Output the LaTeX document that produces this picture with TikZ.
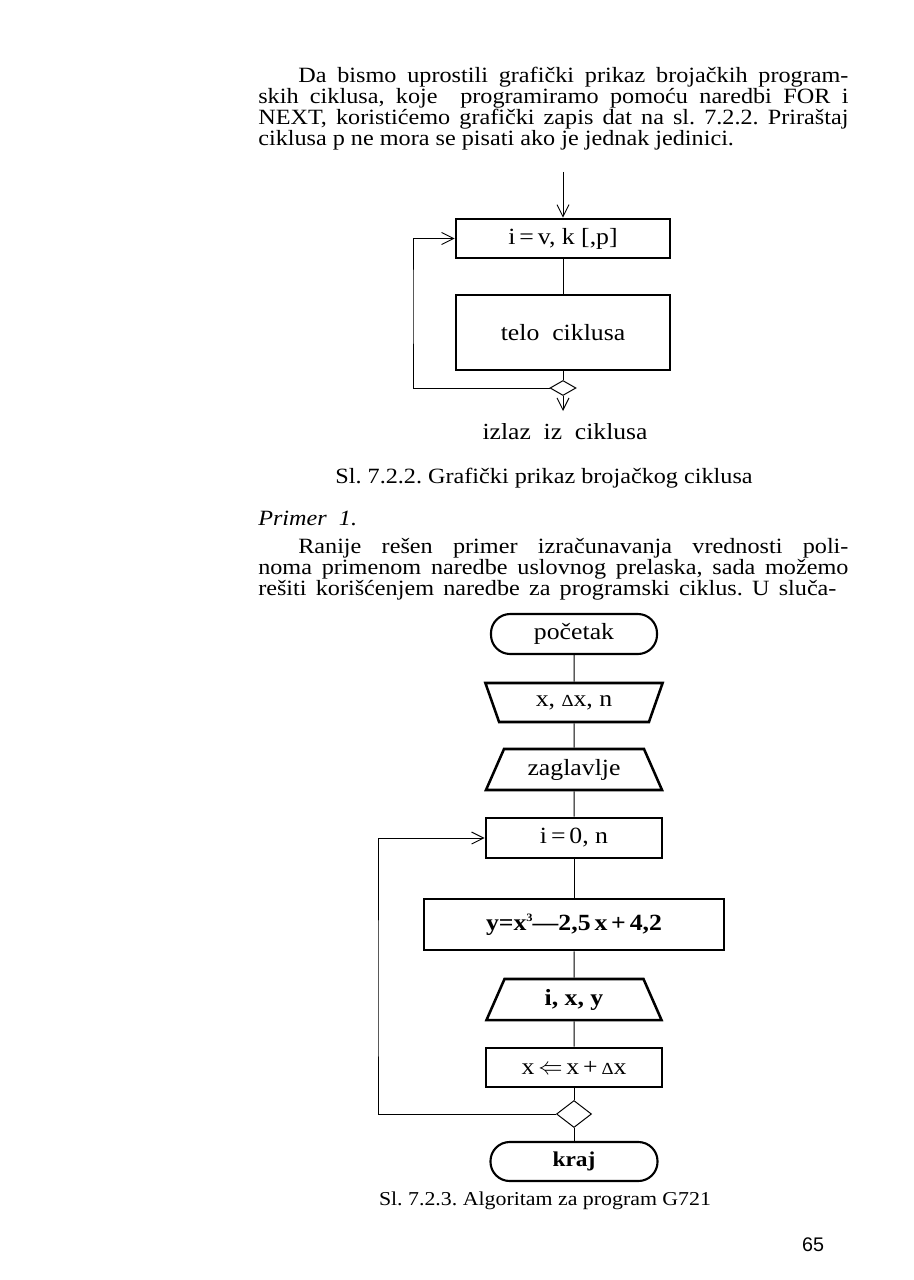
\documentclass[tikz,border=0pt]{standalone}
\usepackage{fontspec}
\setmainfont{Liberation Serif}[FakeStretch=1.11]
\setsansfont{Liberation Sans}
\usetikzlibrary{shapes.geometric, arrows.meta, positioning}
\frenchspacing

\newcommand{\dlt}{{\fontsize{12}{12}\selectfont Δ}}
\newcommand{\cube}{\raisebox{0.85ex}{\fontsize{8}{8}\selectfont 3}}

\begin{document}
\begin{tikzpicture}[
  x=0.025cm, y=-0.025cm,
  txt/.style={font=\fontsize{15.5}{14.8}\selectfont, inner sep=0pt},
  para/.style={txt, text width=14.75cm, align=justify, anchor=north west,
    execute at begin node={\lineskiplimit=-20pt}},
  blk/.style={draw, line width=1.8pt, inner sep=2pt, font=\fontsize{16.5}{16.5}\selectfont},
  term/.style={blk, line width=1.5pt, rounded corners=4.8mm},
  io/.style={blk, trapezium, trapezium stretches body, trapezium left angle=56, trapezium right angle=56},
  dec/.style={draw, diamond, line width=0.7pt, inner sep=0pt},
  ln/.style={line width=0.7pt},
  ar/.style={ln, -{Straight Barb[length=3mm, width=3mm]}}
]
\path[fill=white] (0,0) rectangle (913,1280);
\useasboundingbox (0,0) rectangle (913,1280);

% text above the first chart
\node[para] (par1) at (258,67) {\noindent\hspace*{1cm}Da bismo uprostili grafički prikaz brojačkih program-\linebreak
  skih ciklusa, koje\ \ programiramo pomoću naredbi FOR i\linebreak
  NEXT, koristićemo grafički zapis dat na sl.~7.2.2. Priraštaj\linebreak
  ciklusa p ne mora se pisati ako je jednak jedinici.};

% counting loop
\coordinate (in1) at (563,172);
\node[blk, minimum width=5.35cm, minimum height=0.975cm] (hdr1) at (563,238.5) {i\,=\,v, k [,p]};
\node[blk, minimum width=5.35cm, minimum height=1.875cm] (body1) at (563,332.5) {telo\ \ ciklusa};
\node[dec, minimum width=0.65cm, minimum height=0.375cm] (dec1) at (563,388) {};
\coordinate (ex1) at (563,411);
\coordinate (lp1) at (413,300);
\node[txt, font=\fontsize{16.4}{16.4}\selectfont] (izl) at (565,432) {izlaz\ \ iz\ \ ciklusa};
\draw[ar] (in1) -- (hdr1);
\foreach \a/\b in {hdr1/body1, body1/dec1}{\draw[ln] (\a) -- (\b);}
\draw[ar] (dec1) -- (ex1);
\draw[ar] (dec1.west) -| (lp1) |- (hdr1.west);

\node[txt] (cap1) at (544,478) {Sl. 7.2.2. Grafički prikaz brojačkog ciklusa};
\node[txt, anchor=west] (prm) at (258,518) {\itshape Primer\ \ 1.};

\node[para] (par2) at (258,538) {\noindent\hspace*{1cm}Ranije rešen primer izračunavanja vrednosti poli-\linebreak
  noma primenom naredbe uslovnog prelaska, sada možemo\linebreak
  rešiti korišćenjem naredbe za programski ciklus. U sluča-\parfillskip=8.5pt\par};

% algorithm G721
\node[term, minimum width=4.15cm, minimum height=1cm] (st) at (574,634) {početak};
\node[io, trapezium left angle=124, trapezium right angle=124, minimum width=4.43cm, minimum height=0.975cm] (inp) at (574,702.5) {x, \dlt x, n};
\node[io, minimum width=4.4cm, minimum height=1.025cm] (hd2) at (574,769.5) {zaglavlje};
\node[blk, minimum width=4.4cm, minimum height=1cm] (lp) at (574,838) {i\,=\,0, n};
\node[blk, minimum width=7.5cm, minimum height=1.275cm] (calc) at (574,924.5) {\bfseries y=x\cube---2,5\,x\,+\,4,2};
\node[io, minimum width=4.375cm, minimum height=1.025cm] (outp) at (574,999.5) {\bfseries i, x, y};
\node[blk, minimum width=4.4cm, minimum height=0.975cm] (upd) at (574,1067.5) {x\,$\Leftarrow$\,x\,+\,\dlt x};
\node[dec, minimum width=0.875cm, minimum height=0.675cm] (dec2) at (574,1114) {};
\node[term, font=\fontsize{15}{15}\selectfont, minimum width=4.175cm, minimum height=0.975cm] (fin) at (574,1161.5) {\bfseries kraj};
\coordinate (lp2) at (378,1000);
\foreach \a/\b in {st/inp, inp/hd2, hd2/lp, lp/calc, calc/outp, outp/upd, upd/dec2, dec2/fin}{\draw[ln] (\a) -- (\b);}
\draw[ar] (dec2.west) -| (lp2) |- (lp.west);

\node[txt, font=\fontsize{14}{14}\selectfont] (cap2) at (545,1201) {Sl. 7.2.3. Algoritam za program G721};
\node[txt, font=\sffamily\fontsize{14}{14}\selectfont] (pg) at (813,1245) {65};
\end{tikzpicture}
\end{document}
